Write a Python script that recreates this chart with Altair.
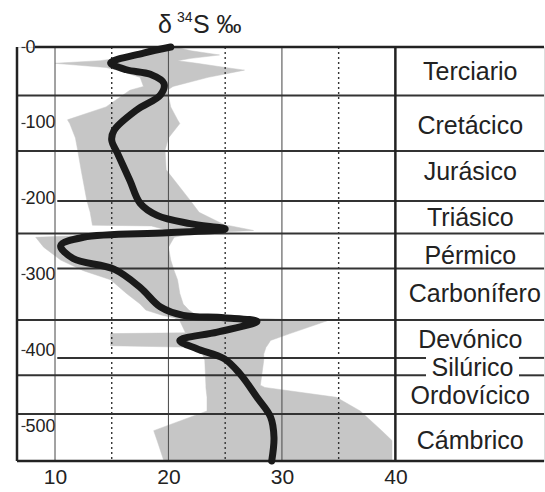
import altair as alt
import pandas as pd

# ---- data ----
curve_age = [0, 8, 21, 30, 36, 48, 63, 83, 110, 123, 140, 176, 206, 222, 233, 240,
             245, 251, 262, 279, 293, 317, 343, 354, 357, 362, 376, 387, 398, 411,
             431, 462, 488, 515, 546]
curve_d34s = [20.2, 17.8, 14.9, 16.3, 18.4, 19.6, 19.3, 17.2, 15.2, 15.0, 15.5, 16.6,
              17.5, 19.0, 21.9, 25.0, 19.9, 12.5, 10.5, 11.6, 15.2, 17.5, 19.3, 21.3,
              24.9, 27.8, 24.3, 21.0, 22.5, 24.9, 26.3, 27.8, 29.0, 29.3, 29.1]

band_age = [0, 5, 10.5, 15, 18, 21.5, 27, 30.5, 40, 52, 57, 79, 96, 101, 120, 136, 162,
            202, 218, 235, 236, 242, 246, 251, 264, 281, 295, 307, 325, 339, 347, 354,
            357, 361, 377, 378, 387, 394, 396, 405, 413, 446, 449, 462, 480, 506, 519, 546]
band_min = [19.8, 17.5, 16.5, 15.5, 14.0, 10.0, 14.5, 15.5, 17.5, 17.8, 16.6, 14.5, 11.1,
            11.3, 11.8, 12.0, 12.3, 12.8, 13.1, 13.3, 18.5, 20.0, 17.0, 8.3, 9.0, 10.5,
            12.5, 14.9, 16.3, 17.5, 18.0, 19.5, 20.5, 21.0, 21.5, 14.9, 14.9, 14.9, 22.0,
            23.0, 23.2, 23.3, 23.3, 23.4, 23.4, 18.7, 19.0, 19.6]
band_max = [20.6, 22.0, 24.5, 22.0, 20.8, 22.5, 25.0, 26.7, 23.5, 20.4, 19.9, 20.2, 20.8,
            21.0, 20.0, 19.7, 19.8, 21.9, 22.7, 25.0, 25.5, 27.5, 22.0, 20.5, 20.0, 20.2,
            20.5, 20.8, 21.0, 21.3, 21.8, 22.5, 26.0, 34.0, 30.9, 30.7, 29.0, 28.7, 28.6,
            28.4, 28.4, 28.1, 28.5, 34.8, 36.9, 38.8, 39.7, 39.7]

# period boundary lines (age) and the x-range each drawn segment covers
seg_age = [64, 137, 203, 246, 292, 360, 410, 410, 433, 433, 484]
seg_from = [6.65, 6.65, 10.2, 6.65, 10.2, 6.65, 10.2, 50.9, 6.65, 50.9, 6.65]
seg_to = [53.1, 53.1, 53.1, 53.1, 53.1, 53.1, 42.7, 53.1, 42.7, 53.1, 53.1]

periods = ["Terciario", "Cretácico", "Jurásico", "Triásico", "Pérmico", "Carbonífero",
           "Devónico", "Silúrico", "Ordovícico", "Cámbrico"]
period_label_age = [33, 104, 165, 226, 275, 326, 386, 424, 460, 519]
period_label_x = [46.6, 46.6, 46.6, 46.6, 46.6, 47.0, 46.6, 46.8, 46.6, 46.6]

solid_grid = [10, 20, 30]
dotted_grid = [15, 25, 35]
panel_edge = [40]
x_ticks = [10, 20, 30, 40]
y_ticks = [0, 100, 200, 300, 400, 500]

X_DOMAIN = [6.65, 53.1]
Y_DOMAIN = [0, 546]
W, H = 527, 414
FONT = "Liberation Sans"
INK = "#222"

xs = alt.Scale(domain=X_DOMAIN, nice=False, zero=False)
ys = alt.Scale(domain=Y_DOMAIN, nice=False, zero=False, reverse=True)

# polygon outline of the gray range: down the low edge, back up the high edge
poly_x = band_min + band_max[::-1]
poly_y = band_age + band_age[::-1]
band_df = pd.DataFrame({"age": poly_y, "v": poly_x, "idx": list(range(len(poly_x)))})
curve_df = pd.DataFrame({"age": curve_age, "d34s": curve_d34s,
                         "idx": list(range(len(curve_age)))})
seg_df = pd.DataFrame({"age": seg_age, "x0": seg_from, "x1": seg_to})
label_df = pd.DataFrame({"name": periods, "age": period_label_age, "x": period_label_x})

band = alt.Chart(band_df).mark_line(fill="#c6c6c6", stroke="#c6c6c6", strokeWidth=0.5,
                                    interpolate="linear").encode(
    y=alt.Y("age:Q", scale=ys,
            axis=alt.Axis(values=y_ticks, orient="left", offset=-8, tickSize=4,
                          tickColor="#333", tickWidth=1.2, labelAlign="left",
                          labelPadding=-4, labelBaseline="middle", domain=False,
                          grid=False, title=None, labelFontSize=18,
                          labelColor=INK, labelFont=FONT)),
    x=alt.X("v:Q", scale=xs,
            axis=alt.Axis(values=x_ticks, grid=False, domain=False, ticks=False,
                          labelFontSize=21, labelPadding=5, labelColor=INK,
                          labelFont=FONT, title=None)),
    order=alt.Order("idx:Q"),
)

solid = alt.Chart(pd.DataFrame({"v": solid_grid})).mark_rule(
    color="#555", strokeWidth=1.1).encode(x=alt.X("v:Q", scale=xs))
dotted = alt.Chart(pd.DataFrame({"v": dotted_grid})).mark_rule(
    color="#333", strokeWidth=1.4, strokeDash=[2, 3]).encode(x=alt.X("v:Q", scale=xs))
edge = alt.Chart(pd.DataFrame({"v": panel_edge})).mark_rule(
    color=INK, strokeWidth=2.5).encode(x=alt.X("v:Q", scale=xs))

bounds = alt.Chart(seg_df).mark_rule(color="#333", strokeWidth=2).encode(
    y=alt.Y("age:Q", scale=ys),
    x=alt.X("x0:Q", scale=xs),
    x2="x1:Q",
)

one = pd.DataFrame({"a": [0]})
frame_top = alt.Chart(one).mark_rule(color=INK, strokeWidth=2.5).encode(
    y=alt.value(0), x=alt.value(18), x2=alt.value(W))
frame_bottom = alt.Chart(one).mark_rule(color=INK, strokeWidth=2.5).encode(
    y=alt.value(H), x=alt.value(0), x2=alt.value(W))
frame_left = alt.Chart(one).mark_rule(color=INK, strokeWidth=2.5).encode(
    x=alt.value(0), y=alt.value(0), y2=alt.value(H))

curve = alt.Chart(curve_df).mark_line(color="#1a1a1a", strokeWidth=7,
                                      interpolate="catmull-rom", strokeCap="round",
                                      strokeJoin="round").encode(
    x=alt.X("d34s:Q", scale=xs),
    y=alt.Y("age:Q", scale=ys),
    order=alt.Order("idx:Q"),
)

labels = alt.Chart(label_df).mark_text(fontSize=25, font=FONT, color=INK,
                                       align="center", baseline="middle").encode(
    x=alt.X("x:Q", scale=xs),
    y=alt.Y("age:Q", scale=ys),
    text="name:N",
)

# title "δ 34S ‰" with a raised 34
t_delta = alt.Chart(one).mark_text(text="δ", fontSize=25, font=FONT, color=INK,
                                   align="left", baseline="alphabetic").encode(
    x=alt.value(141), y=alt.value(-14))
t_sup = alt.Chart(one).mark_text(text="34", fontSize=14, font=FONT, color=INK,
                                 align="left", baseline="alphabetic").encode(
    x=alt.value(160), y=alt.value(-25))
t_rest = alt.Chart(one).mark_text(text="S ‰", fontSize=25, font=FONT, color=INK,
                                  align="left", baseline="alphabetic").encode(
    x=alt.value(176), y=alt.value(-14))

chart = alt.layer(band, solid, dotted, bounds, edge, frame_top, frame_bottom,
                  frame_left, curve, labels, t_delta, t_sup, t_rest).properties(
    width=W, height=H,
    autosize="none",
    padding={"left": 17, "top": 47, "right": 1, "bottom": 31},
).configure_view(stroke=None).configure(background="white")

chart.save("out.html", embed_options={"renderer": "svg", "actions": False})
